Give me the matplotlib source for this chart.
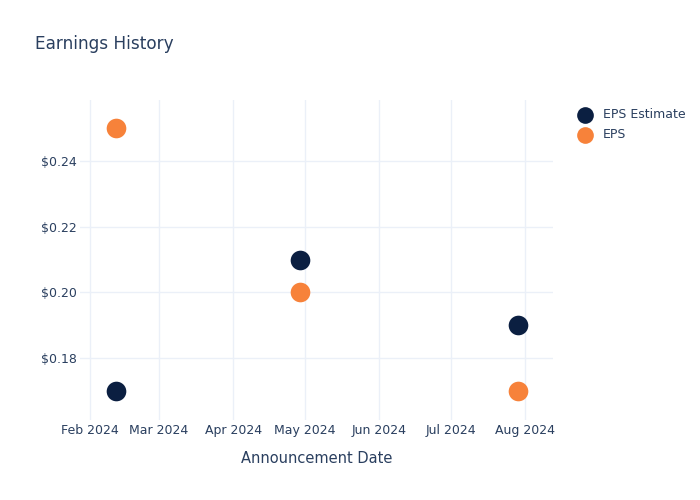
import matplotlib
matplotlib.use("Agg")
import matplotlib.pyplot as plt
import matplotlib.dates as mdates
import numpy as np
from datetime import datetime

plt.rcParams["font.family"] = ["DejaVu Sans"]

# data
dates = [datetime(2024, 2, 12), datetime(2024, 4, 29), datetime(2024, 7, 29)]
eps_estimate = [0.17, 0.21, 0.19]
eps_actual = [0.25, 0.20, 0.17]
tick_dates = [datetime(2024, m, 1) for m in range(2, 9)]
tick_labels = ["Feb 2024", "Mar 2024", "Apr 2024", "May 2024",
               "Jun 2024", "Jul 2024", "Aug 2024"]
y_ticks = [0.18, 0.20, 0.22, 0.24]

TEXT = "#2a3f5f"
GRID = "#ebf0f8"
NAVY = "#0b1f41"
ORANGE = "#f7823a"

W, H = 700, 500
fig = plt.figure(figsize=(W / 100, H / 100), dpi=100, facecolor="white")
# plot area in pixels: left 80, right 553, top 100, bottom 420
ax = fig.add_axes([80 / W, 1 - 420 / H, (553 - 80) / W, (420 - 100) / H])
ax.set_facecolor("white")

ax.scatter(dates, eps_estimate, s=200, color=NAVY, zorder=3, label="EPS Estimate",
           linewidths=0)
ax.scatter(dates, eps_actual, s=200, color=ORANGE, zorder=3, label="EPS",
           linewidths=0)

ax.set_xlim(mdates.date2num(datetime(2024, 1, 28)),
            mdates.date2num(datetime(2024, 8, 12, 16)))
ax.set_ylim(0.1611, 0.2586)

ax.set_xticks(tick_dates)
ax.set_xticklabels(tick_labels)
ax.set_yticks(y_ticks)
ax.set_yticklabels([f"${v:.2f}" for v in y_ticks])

ax.grid(True, color=GRID, linewidth=1)
ax.set_axisbelow(True)
for sp in ax.spines.values():
    sp.set_visible(False)
ax.tick_params(axis="x", length=0, labelsize=9, colors=TEXT, pad=3)
ax.tick_params(axis="y", length=0, labelsize=9, colors=TEXT, pad=2)

ax.set_xlabel("Announcement Date", fontsize=10.5, color=TEXT, labelpad=10)

fig.text(35 / W, 1 - 44 / H, "Earnings History", fontsize=12.2, color=TEXT,
         va="center", ha="left")

leg = ax.legend(loc="upper left", bbox_to_anchor=(572 / W, 1 - 103 / H),
                bbox_transform=fig.transFigure, frameon=False, fontsize=9,
                labelcolor=TEXT, handletextpad=0.9, labelspacing=0.6,
                borderaxespad=0, handlelength=1.2, markerscale=0.85)

fig.savefig("out.png", dpi=100, facecolor="white")
